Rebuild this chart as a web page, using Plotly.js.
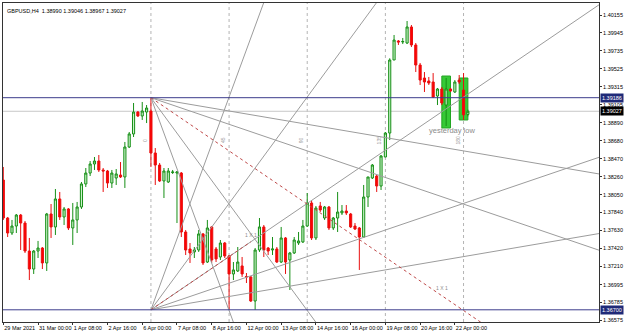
<!DOCTYPE html>
<html><head><meta charset="utf-8">
<script src="https://cdn.plot.ly/plotly-3.0.1.min.js"></script>
<style>html,body{margin:0;padding:0;background:#fff}#c{width:625px;height:335px}</style>
</head><body><div id="c"></div>
<script>
// ---- data (H4 bars, index 0 = 29 Mar 16:00) ----
const open  = [1.38221,1.37776,1.37600,1.37682,1.37811,1.37717,1.37389,1.37178,1.37389,1.37424,1.37249,1.37823,1.37671,1.37999,1.37788,1.37882,1.37659,1.37753,1.37905,1.38175,1.38303,1.38409,1.38444,1.38339,1.38327,1.38186,1.38245,1.38280,1.38257,1.38608,1.38761,1.39018,1.38972,1.39018,1.39030,1.38538,1.38397,1.38210,1.38198,1.38309,1.38303,1.38303,1.37612,1.37413,1.37378,1.37401,1.37589,1.37260,1.37671,1.37413,1.37319,1.37483,1.37331,1.37120,1.37155,1.37214,1.37090,1.37085,1.36803,1.37401,1.37671,1.37424,1.37401,1.37413,1.37260,1.37542,1.37284,1.37366,1.37483,1.37495,1.37682,1.37952,1.37542,1.37917,1.37776,1.37905,1.37659,1.37776,1.37835,1.37858,1.37823,1.37682,1.37659,1.37553,1.38022,1.38245,1.38268,1.38151,1.38491,1.38772,1.39628,1.39851,1.39839,1.39827,1.40015,1.39804,1.39569,1.39417,1.39382,1.39370,1.39206,1.39288,1.39100,1.39288,1.39253,1.39393,1.39276,1.38990];
const high  = [1.38374,1.37788,1.37753,1.37823,1.37823,1.37741,1.37542,1.37401,1.37507,1.37436,1.37835,1.37940,1.38116,1.38081,1.37905,1.37893,1.37952,1.37964,1.38198,1.38362,1.38444,1.38491,1.38514,1.38362,1.38339,1.38339,1.38350,1.38432,1.38667,1.38784,1.39124,1.39030,1.39136,1.39100,1.39186,1.38596,1.38421,1.38362,1.38362,1.38339,1.38327,1.38315,1.37635,1.37483,1.37436,1.37635,1.37600,1.37753,1.37682,1.37436,1.37518,1.37495,1.37342,1.37260,1.37436,1.37319,1.37131,1.37096,1.37424,1.37776,1.37694,1.37436,1.37553,1.37436,1.37671,1.37553,1.37378,1.37553,1.37612,1.37753,1.38069,1.37987,1.37917,1.37964,1.37917,1.37917,1.37788,1.38081,1.37928,1.37928,1.37835,1.37717,1.37671,1.38163,1.38257,1.38409,1.38280,1.38514,1.38784,1.39648,1.39921,1.39862,1.39886,1.40085,1.40038,1.39827,1.39593,1.39487,1.39429,1.39475,1.39300,1.39311,1.39417,1.39300,1.39393,1.39452,1.39475,1.39046];
const low   = [1.37753,1.37553,1.37577,1.37600,1.37401,1.37366,1.37049,1.37120,1.37307,1.37178,1.37155,1.37542,1.37577,1.37753,1.37694,1.37635,1.37460,1.37600,1.37882,1.38139,1.38268,1.38339,1.38315,1.38081,1.38128,1.38128,1.38163,1.38245,1.38128,1.38596,1.38725,1.38960,1.38925,1.38889,1.38374,1.38163,1.38198,1.38010,1.38186,1.38292,1.37717,1.37553,1.37342,1.37249,1.37307,1.37378,1.37225,1.37249,1.37249,1.37260,1.37284,1.37307,1.36700,1.37049,1.37143,1.37085,1.37014,1.36792,1.36700,1.37378,1.37319,1.37342,1.37342,1.37249,1.37249,1.37120,1.36932,1.37354,1.37460,1.37483,1.37671,1.37518,1.37518,1.37846,1.37753,1.37635,1.37635,1.37612,1.37811,1.37811,1.37659,1.37635,1.37167,1.37542,1.37905,1.38233,1.38081,1.38104,1.38491,1.38690,1.39628,1.39804,1.39815,1.39815,1.39780,1.39487,1.39335,1.39253,1.39335,1.39182,1.39100,1.39100,1.38854,1.39253,1.39241,1.39347,1.38925,1.38967];
const close = [1.37776,1.37600,1.37682,1.37811,1.37717,1.37389,1.37178,1.37389,1.37424,1.37249,1.37823,1.37671,1.37999,1.37788,1.37882,1.37659,1.37753,1.37905,1.38175,1.38303,1.38409,1.38444,1.38339,1.38327,1.38186,1.38303,1.38292,1.38257,1.38608,1.38761,1.39018,1.38972,1.39030,1.39065,1.38538,1.38397,1.38210,1.38327,1.38327,1.38315,1.38315,1.37612,1.37401,1.37366,1.37401,1.37589,1.37249,1.37659,1.37284,1.37296,1.37483,1.37331,1.37120,1.37167,1.37260,1.37120,1.37085,1.36803,1.37401,1.37671,1.37401,1.37389,1.37413,1.37260,1.37542,1.37260,1.37366,1.37518,1.37507,1.37682,1.37952,1.37542,1.37893,1.37870,1.37905,1.37659,1.37776,1.37846,1.37858,1.37835,1.37671,1.37647,1.37553,1.38022,1.38257,1.38397,1.38151,1.38503,1.38772,1.39628,1.39862,1.39839,1.39845,1.40015,1.39804,1.39569,1.39393,1.39370,1.39358,1.39194,1.39288,1.39124,1.39288,1.39265,1.39370,1.39370,1.38985,1.39027];
const barIndex = open.map((_, i) => i);

const timeTickBars   = [0, 8, 16, 24, 32, 40, 48, 56, 64, 72, 80, 88, 96, 104];
const timeTickLabels = ['29 Mar 2021','31 Mar 00:00','1 Apr 08:00','2 Apr 16:00','6 Apr 00:00','7 Apr 08:00','8 Apr 16:00','12 Apr 00:00','13 Apr 08:00','14 Apr 16:00','16 Apr 00:00','19 Apr 08:00','20 Apr 16:00','22 Apr 00:00'];
const priceTicks = [1.40155,1.39945,1.39735,1.39525,1.39315,1.39105,1.38890,1.38680,1.38470,1.38260,1.38050,1.37840,1.37630,1.37420,1.37210,1.36995,1.36785,1.36575];

const hLevels      = [1.39186, 1.36700];   // navy horizontal lines
const bidPrice     = 1.39027;
const vLineBars    = [34, 52, 70, 88, 106];
const vLineLabels  = ['0', '45', '90', '135', '180'];
const vLabelPrice  = 1.38690;
const fanAnchorBar = 34;
const fanTopPrice  = 1.39186;
const fanBotPrice  = 1.36700;
const fanUnit      = 0.0003464;              // price per bar of the 1x1 line
const fanRatios    = [0.25, 0.5, 1, 2, 4];
const gannLineEndBar = [101, 57];            // second anchors of the red 1x1 lines (top, bottom)
const rectBars0    = [101, 105];
const rectBars1    = [103, 107];
const rectTop      = [1.39440, 1.39417];
const rectBottom   = [1.38831, 1.38925];
const textNote     = {bar: 103.3, price: 1.38800, text: 'yesterday low'};

// ---- traces ----
const traces = [];
const farBar = 400;
const topAt = b => fanTopPrice - fanUnit * (b - fanAnchorBar);
const botAt = b => fanBotPrice + fanUnit * (b - fanAnchorBar);
const grey = {color: '#9c9c9c', width: 1};
const redDot = {color: '#bf4a4a', width: 1, dash: 'dot'};
fanRatios.forEach(r => {
  if (r !== 1) {
    traces.push({type: 'scatter', mode: 'lines', x: [fanAnchorBar, farBar],
      y: [fanTopPrice, fanTopPrice - r * fanUnit * (farBar - fanAnchorBar)], line: grey, hoverinfo: 'skip'});
  }
  traces.push({type: 'scatter', mode: 'lines', x: [fanAnchorBar, farBar],
    y: [fanBotPrice, fanBotPrice + r * fanUnit * (farBar - fanAnchorBar)], line: grey, hoverinfo: 'skip'});
});
// red dotted 1x1 gann lines
traces.push({type: 'scatter', mode: 'lines', x: [fanAnchorBar, farBar], y: [fanTopPrice, topAt(farBar)], line: redDot, hoverinfo: 'skip'});
traces.push({type: 'scatter', mode: 'lines', x: [fanAnchorBar, gannLineEndBar[1]], y: [fanBotPrice, botAt(gannLineEndBar[1])], line: redDot, hoverinfo: 'skip'});
traces.push({
  type: 'candlestick', x: barIndex, open: open, high: high, low: low, close: close,
  increasing: {line: {color: '#168f16', width: 1}, fillcolor: '#c9f2c9'},
  decreasing: {line: {color: '#e81010', width: 1}, fillcolor: '#ff0000'},
  whiskerwidth: 0, hoverinfo: 'skip'
});

// ---- shapes ----
const shapes = [];
vLineBars.forEach(b => shapes.push({type: 'line', xref: 'x', yref: 'paper', x0: b, x1: b, y0: 0, y1: 1,
  line: {color: '#b4b4b4', width: 1, dash: 'dot'}, layer: 'below'}));
rectBars0.forEach((b, k) => shapes.push({type: 'rect', xref: 'x', yref: 'y', x0: b, x1: rectBars1[k],
  y0: rectBottom[k], y1: rectTop[k], fillcolor: '#36c936', line: {color: '#22a522', width: 1}, layer: 'below'}));
shapes.push({type: 'line', xref: 'paper', yref: 'y', x0: 0, x1: 1, y0: bidPrice, y1: bidPrice,
  line: {color: '#c8c8c8', width: 1}, layer: 'below'});
hLevels.forEach(p => shapes.push({type: 'line', xref: 'paper', yref: 'y', x0: 0, x1: 1, y0: p, y1: p,
  line: {color: '#3c3c8c', width: 1}, layer: 'above'}));

// ---- annotations ----
const F = 'Liberation Sans, Arial, sans-serif';
const ann = [];
hLevels.forEach(p => ann.push({xref: 'paper', yref: 'y', x: 1, y: p, xanchor: 'left', yanchor: 'middle', xshift: 1,
  text: p.toFixed(5), showarrow: false, bgcolor: '#1f2a78', font: {family: F, size: 5.5, color: '#ffffff'}, borderpad: 1}));
ann.push({xref: 'paper', yref: 'y', x: 1, y: bidPrice, xanchor: 'left', yanchor: 'middle', xshift: 1,
  text: bidPrice.toFixed(5), showarrow: false, bgcolor: '#000000', font: {family: F, size: 5.5, color: '#ffffff'}, borderpad: 1});
ann.push({xref: 'paper', yref: 'paper', x: 0, y: 1, xanchor: 'left', yanchor: 'top', xshift: 2, yshift: -3,
  text: 'GBPUSD,H4  ' + [open[107], high[107], low[107], close[107]].map(v => v.toFixed(5)).join(' '),
  showarrow: false, font: {family: F, size: 5.5, color: '#000'}});
ann.push({xref: 'x', yref: 'y', x: textNote.bar, y: textNote.price, xanchor: 'center', yanchor: 'middle',
  text: textNote.text, showarrow: false, font: {family: F, size: 7.5, color: '#8c8c8c'}});
ann.push({xref: 'x', yref: 'y', x: gannLineEndBar[0], y: topAt(gannLineEndBar[0]), xanchor: 'center', yanchor: 'bottom', yshift: 3,
  text: '1 X 1', showarrow: false, font: {family: F, size: 5, color: '#8c8c8c'}});
ann.push({xref: 'x', yref: 'y', x: gannLineEndBar[1], y: botAt(gannLineEndBar[1]), xanchor: 'center', yanchor: 'bottom', yshift: 2,
  text: '1 X 1', showarrow: false, font: {family: F, size: 5, color: '#8c8c8c'}});
vLineBars.forEach((b, k) => ann.push({xref: 'x', yref: 'y', x: b, y: vLabelPrice, xanchor: 'right', yanchor: 'middle',
  xshift: -1, textangle: -90, text: vLineLabels[k], showarrow: false, font: {family: F, size: 5, color: '#9a9a9a'}}));

const layout = {
  width: 625, height: 335,
  margin: {l: 3, r: 26, t: 3, b: 13},
  paper_bgcolor: '#ffffff', plot_bgcolor: '#ffffff',
  showlegend: false,
  xaxis: {range: [-0.07, 137.2], rangeslider: {visible: false}, showgrid: false, zeroline: false,
    tickmode: 'array', tickvals: timeTickBars, ticktext: timeTickLabels, ticks: 'outside', ticklen: 2,
    tickangle: 0, tickcolor: '#333', ticklabelposition: 'outside right',
    tickfont: {family: F, size: 5.5, color: '#000'}, showline: true, linecolor: '#333', linewidth: 1, mirror: true},
  yaxis: {range: [1.36557, 1.40296], side: 'right', showgrid: false, zeroline: false,
    tickmode: 'array', tickvals: priceTicks, ticktext: priceTicks.map(v => v.toFixed(5)), ticks: 'outside', ticklen: 2,
    tickcolor: '#333', tickfont: {family: F, size: 5.5, color: '#000'}, showline: true, linecolor: '#333', linewidth: 1, mirror: true},
  shapes: shapes, annotations: ann
};
Plotly.newPlot('c', traces, layout, {staticPlot: true, displayModeBar: false});
</script></body></html>
